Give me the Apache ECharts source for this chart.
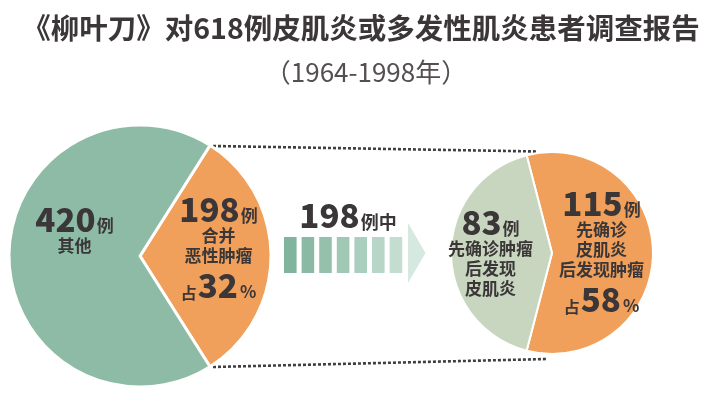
<!DOCTYPE html>
<html><head><meta charset="utf-8">
<script src="https://cdn.jsdelivr.net/npm/echarts@6/dist/echarts.min.js"></script>
<style>html,body{margin:0;padding:0;background:#fff}#c{width:720px;height:396px}</style>
</head><body><div id="c"></div>
<script>
// ---- data ----
const titleText = '《柳叶刀》对618例皮肌炎或多发性肌炎患者调查报告';
const subtitleText = '（1964-1998年）';
const leftNames = ['合并恶性肿瘤', '其他'];
const leftValues = [198, 420];
const leftLines = [['合并', '恶性肿瘤'], ['其他']];
const rightNames = ['先确诊皮肌炎后发现肿瘤', '先确诊肿瘤后发现皮肌炎'];
const rightValues = [115, 83];
const rightLines = [['先确诊', '皮肌炎', '后发现肿瘤'], ['先确诊肿瘤', '后发现', '皮肌炎']];
const unitText = '例';
const middleUnit = '例中';

// ---- style ----
const FONT = '"Noto Sans CJK SC", "Noto Sans", sans-serif';
const DARK = '#3b3738';
const ORANGE = '#f0a05b';
const GREEN = '#8dbba6';
const SAGE = '#c8d6bf';
const barColors = ['#80b49c', '#8abaa3', '#95c1ac', '#a0c8b5', '#abcfbe', '#b7d6c8', '#c3ddd1'];

const leftTotal = leftValues[0] + leftValues[1];
const rightTotal = rightValues[0] + rightValues[1];
const leftPct = Math.round(leftValues[0] / leftTotal * 100);
const rightPct = Math.round(rightValues[0] / rightTotal * 100);

const rich = {
  num: { fontSize: 33, fontWeight: 900, fontFamily: FONT, color: DARK, lineHeight: 31, verticalAlign: 'bottom' },
  unit: { fontSize: 17, fontWeight: 'bold', fontFamily: FONT, color: DARK, lineHeight: 24, verticalAlign: 'bottom', padding: [0, 0, 1, 1] },
  txt: { fontSize: 17, fontWeight: 'bold', fontFamily: FONT, color: DARK, lineHeight: 20 },
  pre: { fontSize: 16, fontWeight: 'bold', fontFamily: FONT, color: DARK, lineHeight: 24, verticalAlign: 'bottom', padding: [0, 1, 1, 0] },
  pct: { fontSize: 33, fontWeight: 900, fontFamily: FONT, color: DARK, lineHeight: 36, verticalAlign: 'bottom' },
  per: { fontSize: 17, fontWeight: 'bold', fontFamily: FONT, color: DARK, lineHeight: 24, verticalAlign: 'bottom', padding: [0, 0, 1, 2] }
};

function makeLabel(value, lines, pct) {
  let s = '{num|' + value + '}{unit|' + unitText + '}';
  lines.forEach(l => { s += '\n{txt|' + l + '}'; });
  if (pct != null) s += '\n{pre|占}{pct|' + pct + '}{per|%}';
  return s;
}

const leftStart = leftValues[0] / leftTotal * 180;
const rightStart = rightValues[0] / rightTotal * 180;

const leftShift = [[10, -8], [3, -26]];
const rightShift = [[-4, -1], [-8, 0]];

const chart = echarts.init(document.getElementById('c'), null, { renderer: 'canvas' });

const graphics = [
  { type: 'text', z: 10, style: { text: titleText, x: 361, y: 28, align: 'center', verticalAlign: 'middle', fontSize: 28.5, fontWeight: 'bold', fontFamily: FONT, fill: DARK } },
  { type: 'text', z: 10, style: { text: subtitleText, x: 366, y: 72, align: 'center', verticalAlign: 'middle', fontSize: 26, fontWeight: 'normal', fontFamily: FONT, fill: '#554f51' } },
  { type: 'line', z: 1, shape: { x1: 213, y1: 146, x2: 538, y2: 151.5 }, style: { stroke: '#3f3f3f', lineWidth: 2.6, lineDash: [3, 2] } },
  { type: 'line', z: 1, shape: { x1: 213, y1: 367, x2: 547, y2: 359 }, style: { stroke: '#3f3f3f', lineWidth: 2.6, lineDash: [3, 2] } },
  { type: 'text', z: 10, style: { text: '{n|' + leftValues[0] + '}{u|' + middleUnit + '}', x: 348, y: 232, align: 'center', verticalAlign: 'bottom',
      rich: { n: { fontSize: 33, fontWeight: 900, fontFamily: FONT, fill: DARK, lineHeight: 31, verticalAlign: 'bottom' },
              u: { fontSize: 18, fontWeight: 'bold', fontFamily: FONT, fill: DARK, lineHeight: 24, verticalAlign: 'bottom', padding: [0, 0, 1, 1] } } } },
  { type: 'polygon', z: 5, shape: { points: [[408, 223], [425.5, 253], [408, 283]] }, style: { fill: '#d5e9e0' } }
];
barColors.forEach((c, i) => {
  graphics.push({ type: 'rect', z: 5, shape: { x: 284 + i * 17.6, y: 237, width: 12.6, height: 36 }, style: { fill: c } });
});

chart.setOption({
  animation: false,
  backgroundColor: '#fff',
  graphic: { elements: graphics },
  series: [
    {
      type: 'pie', silent: true, center: [140, 256], radius: 131, startAngle: leftStart, clockwise: true,
      emphasis: { disabled: true },
      itemStyle: { borderColor: '#fff', borderWidth: 3 },
      label: { show: true, position: 'inside', formatter: p => makeLabel(leftValues[p.dataIndex], leftLines[p.dataIndex], p.dataIndex === 0 ? leftPct : null), rich: rich, align: 'center' },
      labelLine: { show: false },
      labelLayout: p => ({ dx: leftShift[p.dataIndex][0], dy: leftShift[p.dataIndex][1] }),
      data: [
        { name: leftNames[0], value: leftValues[0], itemStyle: { color: ORANGE } },
        { name: leftNames[1], value: leftValues[1], itemStyle: { color: GREEN } }
      ]
    },
    {
      type: 'pie', silent: true, center: [552, 253], radius: 101, startAngle: rightStart, clockwise: true,
      emphasis: { disabled: true },
      itemStyle: { borderColor: '#fff', borderWidth: 2 },
      label: { show: true, position: 'inside', formatter: p => makeLabel(rightValues[p.dataIndex], rightLines[p.dataIndex], p.dataIndex === 0 ? rightPct : null), rich: rich, align: 'center' },
      labelLine: { show: false },
      labelLayout: p => ({ dx: rightShift[p.dataIndex][0], dy: rightShift[p.dataIndex][1] }),
      data: [
        { name: rightNames[0], value: rightValues[0], itemStyle: { color: ORANGE } },
        { name: rightNames[1], value: rightValues[1], itemStyle: { color: SAGE } }
      ]
    }
  ]
});
</script></body></html>
